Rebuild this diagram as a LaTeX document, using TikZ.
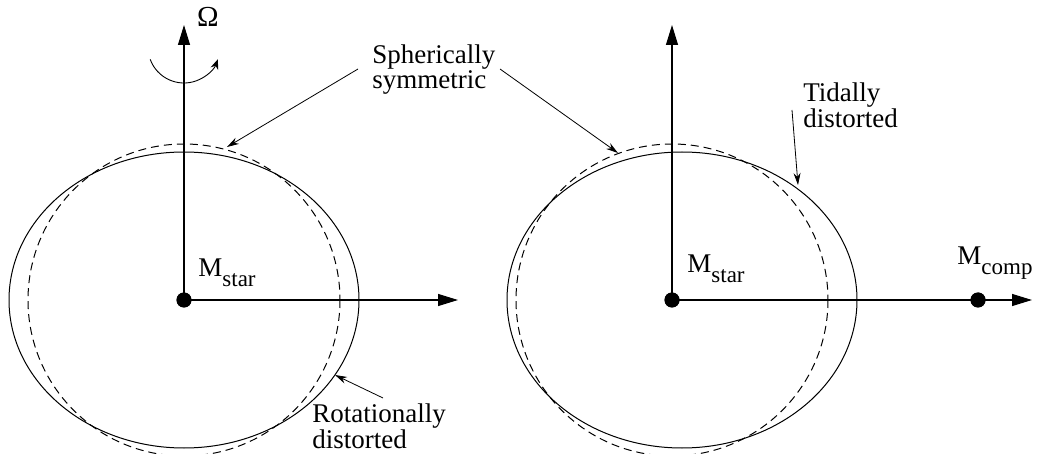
\documentclass[tikz,border=0pt]{standalone}
\usepackage{fontspec}
\setmainfont{Liberation Serif}
\usetikzlibrary{arrows.meta}
\begin{document}
\begin{tikzpicture}[x=0.5pt,y=-0.5pt,
  axis/.style={line width=0.6pt,-{Triangle[length=10pt,width=6pt]}},
  body/.style={line width=0.5pt},
  sphere/.style={line width=0.5pt,dash pattern=on 4pt off 2.5pt},
  pointer/.style={line width=0.4pt,-{Stealth[length=6pt,width=3.5pt]}},
  spin/.style={line width=0.45pt,-{Stealth[length=5pt,width=4pt]}},
  mass/.style={circle,fill=black,inner sep=0pt,minimum size=7.5pt},
  lbl/.style={inner sep=0pt,font=\fontsize{13.5}{10.2}\selectfont,align=left},
  mlbl/.style={inner sep=0pt,font=\fontsize{13.5}{13.5}\selectfont,anchor=base west},
]
\useasboundingbox (0,0) rectangle (1039,454);

% ---------- left: rotational distortion ----------
\node[mass] (s1) at (184,300) {};
\coordinate (z1) at (184,25);
\coordinate (x1) at (458,300);
\draw[body] (s1.center) ellipse [x radius=175, y radius=148];
\draw[sphere] (s1.center) circle [radius=156];
\draw[axis] (s1.center) -- (z1);
\draw[axis] (s1.center) -- (x1);
\node[mass] at (s1.center) {};
\node[mlbl] (m1) at (198,277) {M\raisebox{-5pt}{\fontsize{11.5}{11.5}\selectfont star}};
\node[lbl,anchor=base,font=\fontsize{14.5}{14.5}\selectfont] (omega) at (208,27) {Ω};
\coordinate (rc) at (184,47);
\draw[spin] ([shift={(160:36)}]rc) arc [start angle=160, end angle=20, radius=36];

% ---------- labels ----------
\node[lbl,anchor=north west] (sph) at (372,44) {Spherically\\symmetric};
\coordinate (sphA) at (358,69);
\coordinate (sphB) at (500,69);
\coordinate (sphL) at (227,147);
\coordinate (sphR) at (618,153);
\draw[pointer] (sphA) -- (sphL);
\draw[pointer] (sphB) -- (sphR);

\node[lbl,anchor=north west] (rot) at (312,403) {Rotationally\\distorted};
\coordinate (rotA) at (383,398);
\coordinate (rotB) at (335,375);
\draw[pointer] (rotA) -- (rotB);

% ---------- right: tidal distortion ----------
\node[mass] (s2) at (672,300) {};
\node[mass] (c2) at (978,300) {};
\coordinate (z2) at (672,25);
\coordinate (x2) at (1032,300);
\draw[body] (682,300) ellipse [x radius=175, y radius=148];
\draw[sphere] (s2.center) circle [radius=156];
\draw[axis] (s2.center) -- (z2);
\draw[axis] (s2.center) -- (x2);
\node[mass] at (s2.center) {};
\node[mass] at (c2.center) {};
\node[mlbl] (m2) at (687,273) {M\raisebox{-5pt}{\fontsize{11.5}{11.5}\selectfont star}};
\node[mlbl] (m3) at (957,265) {M\raisebox{-5pt}{\fontsize{11.5}{11.5}\selectfont comp}};

\node[lbl,anchor=north west] (tid) at (803,82) {Tidally\\distorted};
\coordinate (tidA) at (792,110);
\coordinate (tidB) at (798,185);
\draw[pointer] (tidA) -- (tidB);
\end{tikzpicture}
\end{document}
